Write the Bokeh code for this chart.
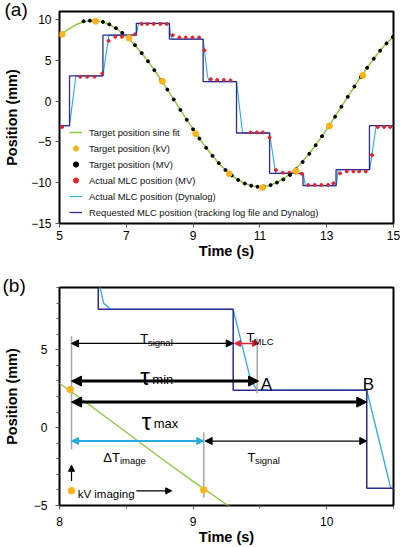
from bokeh.plotting import figure
from bokeh.models import (Legend, LegendItem, Label, Arrow, NormalHead, Title,
                          FixedTicker, Range1d)
from bokeh.layouts import column
from bokeh.embed import file_html
from bokeh.resources import INLINE

FONT = "Liberation Sans"

# ---------------- data ----------------
# Target position sine fit
fit_t = [5.00, 5.25, 5.50, 5.75, 6.00, 6.25, 6.50, 6.75, 7.00, 7.25, 7.50,
         7.75, 8.00, 8.25, 8.50, 8.75, 9.00, 9.25, 9.50, 9.75, 10.00, 10.25,
         10.50, 10.75, 11.00, 11.25, 11.50, 11.75, 12.00, 12.25, 12.50, 12.75,
         13.00, 13.25, 13.50, 13.75, 14.00, 14.25, 14.50, 14.75, 15.00]
fit_y = [7.95, 8.79, 9.40, 9.77, 9.90, 9.77, 9.40, 8.79, 7.95, 6.91, 5.70,
         4.33, 2.85, 1.30, -0.30, -1.90, -3.45, -4.93, -6.30, -7.51, -8.55, -9.39,
         -10.00, -10.37, -10.50, -10.37, -10.00, -9.39, -8.55, -7.51, -6.30, -4.93,
         -3.45, -1.90, -0.30, 1.30, 2.85, 4.33, 5.70, 6.91, 7.95]

# Target position (kV)
kv_t = [5.08, 6.08, 7.08, 8.08, 9.08, 10.08, 11.08, 12.08, 13.08, 14.08]
kv_y = [8.2, 9.8, 7.75, 2.45, -4.0, -8.9, -10.6, -8.57, -3.04, 3.16]

# Target position (MV)
mv_t = [5.72, 5.91, 6.11, 6.30, 6.49, 6.69, 6.88, 7.07, 7.26, 7.46, 7.65,
        7.84, 8.04, 8.23, 8.42, 8.62, 8.81, 9.00, 9.19, 9.39, 9.58, 9.77,
        9.97, 10.16, 10.35, 10.55, 10.74, 10.93, 11.12, 11.32, 11.51, 11.70,
        11.90, 12.09, 12.28, 12.48, 12.67, 12.86, 13.05, 13.25, 13.44, 13.63,
        13.83, 14.02, 14.21, 14.41, 14.60, 14.79, 14.98]
mv_y = [9.80, 9.88, 9.88, 9.72, 9.42, 8.96, 8.38, 7.68, 6.87, 5.90, 4.89,
        3.81, 2.61, 1.42, 0.21, -1.07, -2.27, -3.45, -4.58, -5.71, -6.70, -7.60,
        -8.44, -9.11, -9.66, -10.10, -10.36, -10.49, -10.47, -10.29, -9.98, -9.60,
        -9.05, -8.35, -7.45, -6.45, -5.40, -4.29, -3.15, -1.90, -0.68, 0.53,
        1.80, 2.97, 4.10, 5.22, 6.20, 7.09, 7.87]

# Actual MLC position (MV)
mlc_t = [5.08, 5.62, 5.83, 6.05, 6.28, 6.47, 6.67, 6.87, 7.06, 7.26, 7.46,
         7.63, 7.82, 8.02, 8.21, 8.39, 8.59, 8.78, 8.98, 9.18, 9.34, 9.53,
         9.72, 9.92, 10.12, 10.72, 10.91, 11.09, 11.29, 11.48, 11.68, 11.88,
         12.07, 12.26, 12.45, 12.64, 12.84, 13.04, 13.20, 13.40, 13.60, 13.80,
         13.97, 14.17, 14.36, 14.53, 14.72, 14.90]
mlc_y = [-3.16, 3.0, 3.0, 3.0, 3.4, 7.4, 7.9, 7.9, 7.9, 8.2, 9.48,
         9.48, 9.48, 9.48, 9.48, 8.1, 7.82, 7.82, 7.82, 7.82, 6.24, 2.7,
         2.6, 2.6, 2.55, -3.83, -3.83, -3.83, -4.45, -8.45, -8.77, -8.77,
         -8.77, -8.9, -10.27, -10.27, -10.27, -10.27, -10.07, -8.85, -8.61, -8.61,
         -8.61, -8.61, -6.6, -3.16, -3.16, -3.16]

# Actual MLC position (Dynalog)
dyn_t = [5.00, 5.30, 5.49, 6.30, 6.48, 7.30, 7.37, 8.29, 8.33, 8.38, 9.30,
         9.43, 9.48, 10.30, 10.48, 11.29, 11.47, 12.30, 12.36, 13.29, 13.34,
         14.29, 14.48, 15.00]
dyn_y = [-3.0, -3.0, 3.1, 3.1, 8.1, 8.1, 9.55, 9.55, 8.0, 7.6, 7.6,
         3.1, 2.4, 2.4, -3.9, -3.9, -8.85, -8.85, -10.35, -10.35, -8.4,
         -8.4, -3.0, -3.0]

# Requested MLC position (step, value holds after each time)
req_t = [5.00, 5.30, 6.30, 7.30, 8.29, 9.30, 10.30, 11.29, 12.29, 13.28, 14.28, 15.00]
req_y = [-3.0, 3.1, 8.1, 9.55, 7.6, 2.4, -3.9, -8.85, -10.35, -8.4, -3.0, -3.0]

# Panel (b) annotation geometry (data coordinates)
guide_x = [8.09, 9.08, 9.48]
guide_y0 = [5.87, -0.3, 5.77]
guide_y1 = [-1.4, -4.5, 2.2]

span_x0 = [8.09, 9.31, 8.09, 8.09, 8.09, 9.09]
span_x1 = [9.30, 9.49, 9.49, 10.30, 9.08, 10.30]
span_y = [5.41, 5.41, 2.99, 1.64, -0.86, -0.86]

ann_text = ["T", "signal", "T", "MLC", "\u03c4", "min", "A", "\u03c4", "max", "B",
            "\u0394T", "image", "T", "signal", "kV imaging"]
ann_x = [8.605, 8.662, 9.40, 9.452, 8.605, 8.695, 9.506, 8.615, 8.705, 10.27,
         8.328, 8.452, 9.407, 9.463, 8.136]
ann_y = [5.72, 5.50, 5.77, 5.55, 3.31, 3.12, 2.74, 0.42, 0.25, 2.74,
         -1.92, -2.12, -1.92, -2.12, -4.27]

kv_note_x = [8.09]
kv_note_y = [-4.05]

GREEN = "#8dc63f"
ORANGE = "#f9b31b"
RED = "#e2242f"
CYAN = "#29abe2"
NAVY = "#2e2a90"


def style(p):
    p.grid.visible = False
    p.outline_line_color = "black"
    p.outline_line_width = 2
    p.outline_line_alpha = 1
    for ax in (p.xaxis[0], p.yaxis[0]):
        ax.axis_line_color = None
        ax.major_tick_line_color = "#555555"
        ax.minor_tick_line_color = "#555555"
        ax.major_tick_out = 4
        ax.major_tick_in = 0
        ax.minor_tick_out = 3
        ax.minor_tick_in = 0
        ax.major_label_text_font = FONT
        ax.major_label_text_font_size = "12px"
        ax.major_label_text_color = "black"
        ax.axis_label_text_font = FONT
        ax.axis_label_text_font_style = "bold"
        ax.axis_label_text_font_size = "14.5px"
        ax.axis_label_text_color = "black"


def panel_tag(p, text, shift, drop):
    # a blank first line pushes the tag down by `drop` line-heights
    p.add_layout(Title(text="\n" + text, align="left", offset=shift,
                       vertical_align="top", standoff=-21, text_font=FONT,
                       text_font_size="19px", text_line_height=drop,
                       text_font_style="normal", text_color="black"), "above")


# ---------------- panel (a) ----------------
pa = figure(width=400, height=270, x_range=Range1d(5, 15), y_range=Range1d(-15, 11),
            output_backend="svg", toolbar_location=None,
            min_border_left=55, min_border_right=6, min_border_top=3,
            min_border_bottom=47)
style(pa)
pa.xaxis[0].ticker = FixedTicker(ticks=[5, 7, 9, 11, 13, 15])
pa.yaxis[0].ticker = FixedTicker(ticks=[-15, -10, -5, 0, 5, 10])
pa.xaxis[0].axis_label = "Time (s)"
pa.yaxis[0].axis_label = "Position (mm)"
pa.xaxis[0].major_label_standoff = 3
pa.xaxis[0].axis_label_standoff = 0
pa.yaxis[0].major_label_standoff = 4
pa.yaxis[0].axis_label_standoff = 8

r_fit = pa.line(fit_t, fit_y, line_color=GREEN, line_width=1.5)
r_dyn = pa.line(dyn_t, dyn_y, line_color=CYAN, line_width=1.1)
r_req = pa.step(req_t, req_y, mode="after", line_color=NAVY, line_width=1.3)
r_mlc = pa.scatter(mlc_t, mlc_y, size=3, fill_color=RED, line_color=RED)
r_mv = pa.scatter(mv_t, mv_y, size=3, fill_color="black", line_color="black")
r_kv = pa.scatter(kv_t, kv_y, size=6, fill_color=ORANGE, line_color=ORANGE)

legend = Legend(items=[
    LegendItem(label="Target position sine fit", renderers=[r_fit]),
    LegendItem(label="Target position (kV)", renderers=[r_kv]),
    LegendItem(label="Target position (MV)", renderers=[r_mv]),
    LegendItem(label="Actual MLC position (MV)", renderers=[r_mlc]),
    LegendItem(label="Actual MLC position (Dynalog)", renderers=[r_dyn]),
    LegendItem(label="Requested MLC position (tracking log file and Dynalog)",
               renderers=[r_req]),
], location=(10, 3))
legend.border_line_color = None
legend.background_fill_alpha = 0
legend.padding = 0
legend.margin = 0
legend.spacing = 0
legend.glyph_width = 13
legend.glyph_height = 16
legend.label_height = 16
legend.label_standoff = 7
legend.label_text_font = FONT
legend.label_text_font_size = "9.4px"
legend.label_text_color = "#111111"
pa.add_layout(legend)
panel_tag(pa, "(a)", -55, 0.45)

# ---------------- panel (b) ----------------
pb = figure(width=400, height=277, x_range=Range1d(8, 10.5), y_range=Range1d(-5, 9),
            output_backend="svg", toolbar_location=None,
            min_border_left=57, min_border_right=7, min_border_top=17,
            min_border_bottom=42)
style(pb)
pb.xaxis[0].ticker = FixedTicker(ticks=[8, 9, 10], minor_ticks=[8.5, 9.5, 10.5])
pb.yaxis[0].ticker = FixedTicker(ticks=[-5, 0, 5],
                                 minor_ticks=[-4, -3, -2, -1, 1, 2, 3, 4, 6, 7, 8, 9])
pb.xaxis[0].axis_label = "Time (s)"
pb.yaxis[0].axis_label = "Position (mm)"
pb.xaxis[0].major_label_standoff = 7
pb.xaxis[0].axis_label_standoff = 0
pb.yaxis[0].major_label_standoff = 8
pb.yaxis[0].axis_label_standoff = 11

pb.line(fit_t, fit_y, line_color=GREEN, line_width=1.3)
pb.line(dyn_t, dyn_y, line_color=CYAN, line_width=1.3)
pb.step(req_t, req_y, mode="after", line_color=NAVY, line_width=1.5)
pb.segment(x0=guide_x, y0=guide_y0, x1=guide_x, y1=guide_y1,
           line_color="#a8a8a8", line_width=1.5)

arrow_styles = [("black", 1.2, 7), (RED, 1.5, 6), ("black", 3, 10),
                ("black", 3, 10), (CYAN, 2, 7), ("black", 1.2, 7)]
for (c, w, hs), x0, x1, y in zip(arrow_styles, span_x0, span_x1, span_y):
    pb.add_layout(Arrow(
        start=NormalHead(size=hs, fill_color=c, line_color=c, line_width=1),
        end=NormalHead(size=hs, fill_color=c, line_color=c, line_width=1),
        x_start=x0, y_start=y, x_end=x1, y_end=y,
        line_color=c, line_width=w))

# vertical kV arrow and "kV imaging" pointer
pb.add_layout(Arrow(end=NormalHead(size=6, fill_color="black", line_color="black"),
                    x_start=8.09, y_start=-3.42, x_end=8.09, y_end=-2.42,
                    line_color="black", line_width=1.2))
pb.add_layout(Arrow(end=NormalHead(size=6, fill_color="black", line_color="black"),
                    x_start=8.575, y_start=-4.06, x_end=8.84, y_end=-4.06,
                    line_color="black", line_width=1.2))

ann_sizes = ["13px", "9.5px", "13px", "9.5px", "24px", "13px", "17px", "24px",
             "13px", "17px", "13px", "9.5px", "13px", "9.5px", "11.5px"]
for t, x, y, s in zip(ann_text, ann_x, ann_y, ann_sizes):
    pb.add_layout(Label(x=x, y=y, text=t, text_font=FONT, text_font_size=s,
                        text_baseline="alphabetic", text_align="left",
                        text_color="black"))

pb.scatter(kv_t, kv_y, size=6.5, fill_color=ORANGE, line_color=ORANGE)
pb.scatter(kv_note_x, kv_note_y, size=6.5, fill_color=ORANGE, line_color=ORANGE)
panel_tag(pb, "(b)", -57, 0.65)

layout = column(pa, pb)
open("out.html", "w").write(file_html(layout, INLINE))
